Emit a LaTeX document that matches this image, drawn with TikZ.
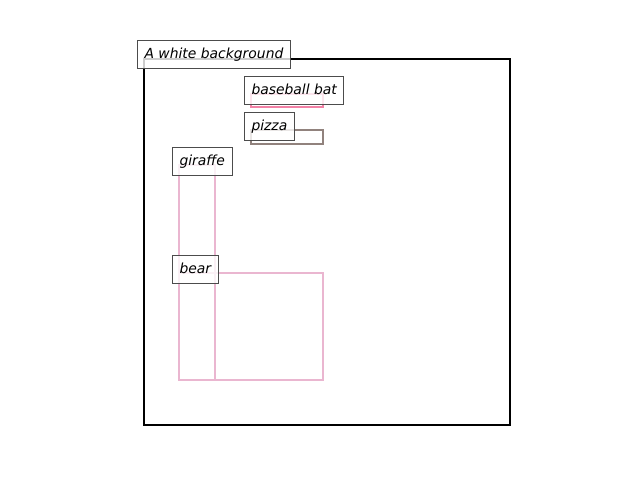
\documentclass[tikz,border=0pt]{standalone}
\usepackage{fontspec}
\setmainfont{DejaVu Sans}
\usepackage{tikz}
\usetikzlibrary{calc}

\definecolor{batpink}{RGB}{242,128,165}
\definecolor{pizzagray}{RGB}{145,130,125}
\definecolor{animalpink}{RGB}{234,182,208}

\tikzset{
    boxline/.style={line width=2.5pt},
    tag/.style={draw=black!70, fill=white, fill opacity=0.8, text opacity=1,
        line width=1pt, anchor=base west, inner xsep=7pt, inner ysep=4pt,
        text height=14pt, text depth=6pt, xshift=-7pt,
        font=\fontsize{13.9}{16}\selectfont\itshape},
}

\begin{document}
\begin{tikzpicture}[x=1pt, y=-1pt]
    \useasboundingbox (0,0) rectangle (640,480);
    %% Image frame
    \draw[line width=2pt]
    (144,59) rectangle (510,425)
    ;
    %% Boxes
    \draw[boxline, batpink]
    (251,94) rectangle (323,107)
    ;
    \draw[boxline, pizzagray]
    (251,130) rectangle (323,144)
    ;
    \draw[boxline, animalpink]
    (179,165) rectangle (215,380)
    (179,273) rectangle (323,380)
    ;
    %% Labels
    \node[tag] (background) at (144,58) {A white background};
    \node[tag] (bat) at (251,94) {baseball bat};
    \node[tag] (pizza) at (251,130) {pizza};
    \node[tag] (giraffe) at (179,165) {giraffe};
    \node[tag] (bear) at (179,273) {bear};
\end{tikzpicture}
\end{document}
